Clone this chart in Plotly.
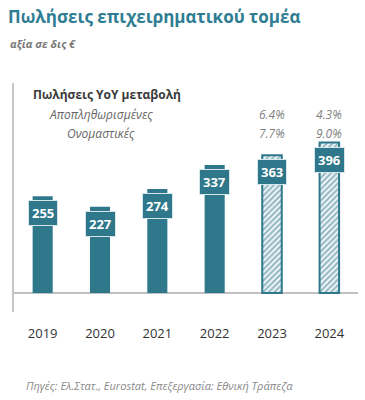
import plotly.graph_objects as go

years = [2019, 2020, 2021, 2022, 2023, 2024]
year_labels = ["2019", "2020", "2021", "2022", "2023", "2024"]
sales = [255, 227, 274, 337, 363, 396]
forecast = [False, False, False, False, True, True]
row_labels = ["Αποπληθωρισμένες", "Ονομαστικές"]
deflated_yoy = {2023: "6.4%", 2024: "4.3%"}
nominal_yoy = {2023: "7.7%", 2024: "9.0%"}

TEAL = "#2f788b"
FONT = "Open Sans"

act_x = [y for y, f in zip(years, forecast) if not f]
act_y = [v for v, f in zip(sales, forecast) if not f]
fc_x = [y for y, f in zip(years, forecast) if f]
fc_y = [v for v, f in zip(sales, forecast) if f]

fig = go.Figure()
fig.add_trace(go.Bar(x=act_x, y=act_y, width=0.35,
                     marker=dict(color=TEAL, line=dict(width=0)), hoverinfo="skip"))
fig.add_trace(go.Bar(x=fc_x, y=fc_y, width=0.34,
                     marker=dict(color="white", line=dict(color=TEAL, width=2),
                                 pattern=dict(shape="/", fgcolor=TEAL, bgcolor="white",
                                              size=4, solidity=0.6)),
                     hoverinfo="skip"))

ann = []
for yr, v in zip(years, sales):
    ann.append(dict(x=yr, y=v, xref="x", yref="y", text=f"<b>{v}</b>",
                    showarrow=False, yanchor="top", yshift=-4,
                    font=dict(family=FONT, size=13, color="white"),
                    bgcolor=TEAL, bordercolor="#d6e6ea", borderwidth=1, borderpad=3))

def px(p):
    return (p - 14) / 344

def py(p):
    return (312 - p) / 229

ann.append(dict(x=px(31), y=py(94), xref="paper", yref="paper",
                text="<b>Πωλήσεις YoY μεταβολή</b>", showarrow=False,
                xanchor="left", yanchor="middle",
                font=dict(family=FONT, size=12, color="#3a3a3a")))
for lbl, ypix in zip(row_labels, [114, 133]):
    ann.append(dict(x=px(101), y=py(ypix), xref="paper", yref="paper",
                    text=f"<i>{lbl}</i>", showarrow=False, xanchor="center",
                    yanchor="middle", font=dict(family=FONT, size=12, color="#666666")))
for d, ypix in [(deflated_yoy, 114), (nominal_yoy, 133)]:
    for yr, t in d.items():
        ann.append(dict(x=yr, y=py(ypix), xref="x", yref="paper",
                        text=f"<i>{t}</i>", showarrow=False, xanchor="center",
                        yanchor="middle", font=dict(family=FONT, size=12, color="#7f7f7f")))

ann.append(dict(x=px(8), y=py(43), xref="paper", yref="paper",
                text="<b><i>αξία σε δις €</i></b>", showarrow=False, xanchor="left",
                yanchor="middle", font=dict(family=FONT, size=11, color="#7a7a7a")))
ann.append(dict(x=px(24), y=py(385), xref="paper", yref="paper",
                text="<i>Πηγές: Ελ.Στατ., Eurostat, Επεξεργασία: Εθνική Τράπεζα</i>",
                showarrow=False, xanchor="left", yanchor="middle",
                font=dict(family=FONT, size=11, color="#8a8a8a")))

fig.update_layout(
    width=365, height=400,
    margin=dict(l=14, r=7, t=83, b=88, autoexpand=False),
    paper_bgcolor="white", plot_bgcolor="white",
    showlegend=False, barmode="overlay",
    title=dict(text="<b>Πωλήσεις επιχειρηματικού τομέα</b>", xref="container",
               yref="container", x=8 / 365, y=1 - 17 / 400, xanchor="left",
               yanchor="middle", font=dict(family=FONT, size=17, color="#2e7d93")),
    annotations=ann,
    xaxis=dict(range=[2018.5, 2024.5], tickvals=years, ticktext=year_labels,
               showgrid=False, showline=False, ticks="", zeroline=False,
               ticklabelstandoff=12, automargin=False,
               tickfont=dict(family=FONT, size=13, color="#333333")),
    yaxis=dict(range=[-50, 553], showgrid=False, showticklabels=False, ticks="",
               showline=True, linecolor="#c6c6c6", linewidth=1.5, automargin=False,
               zeroline=True, zerolinecolor="#c0c0c0", zerolinewidth=2),
)

fig.write_html("out.html", config={"displayModeBar": False},
               post_script="document.body.style.margin='0';")
